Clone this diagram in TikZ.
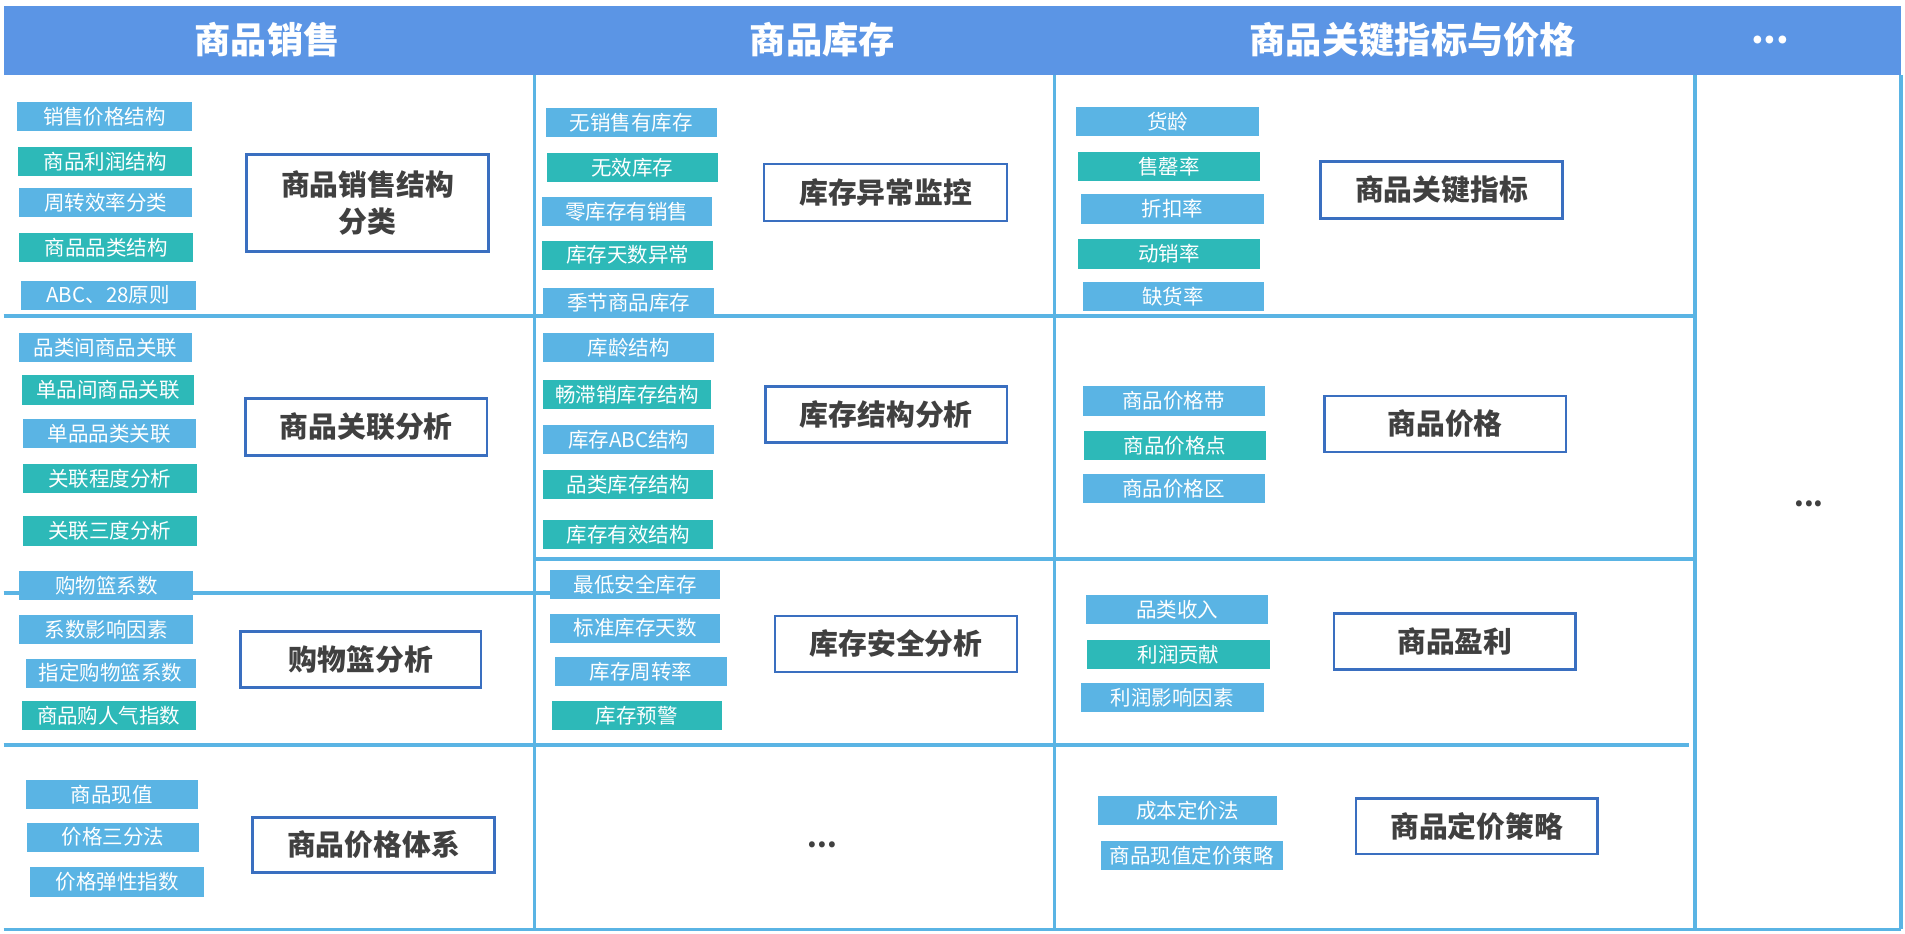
\documentclass[tikz,border=0pt]{standalone}
\usepackage{fontspec}
\newfontfamily\cjk{Noto Sans CJK SC}
\begin{document}
\begin{tikzpicture}[x=0.02cm,y=-0.02cm,
  grid/.style={draw=lb,line width=3.5pt},
  bigbox/.style={draw=bb,line width=1.2pt,fill=white,font=\cjk\fontsize{13.5}{15}\selectfont\bfseries,text=tx,align=center,inner sep=0pt},
  smallbox/.style={inner sep=0pt,text=white,font=\cjk\fontsize{9.6}{11}\selectfont},
  head/.style={text=white,font=\cjk\fontsize{17}{19}\selectfont\bfseries}]
\definecolor{lb}{HTML}{5AB4E4}
\definecolor{tl}{HTML}{2DB9B8}
\definecolor{hb}{HTML}{5B95E5}
\definecolor{bb}{HTML}{3A6FC0}
\definecolor{tx}{HTML}{404040}
\useasboundingbox (0,0) rectangle (1568,768);
\fill[white] (0,0) rectangle (1568,768);
\fill[hb] (3,5) rectangle (1565,62);
\node[head] (h1) at (220,33) {商品销售};
\node[head] (h2) at (677,33) {商品库存};
\node[head] (h3) at (1163,33) {商品关键指标与价格};
\node[head] (h4) at (1457,33) {...};
% grid
\draw[draw=lb,line width=1.8pt] (440,62)--(440,765) (868,62)--(868,765) (1395,62)--(1395,765) (1565,62)--(1565,765);
\draw[draw=lb,line width=1.8pt] (3,260)--(1395,260) (440,460)--(1395,460) (3,488)--(460,488) (3,613)--(1390,613) (3,765)--(1565,765);
\newcommand{\sbx}[6]{\node[smallbox,fill=#4,minimum width={(#2-#1)*0.02cm},minimum height=0.48cm] (#6) at ({(#1+#2)/2},#3) {#5};}
\newcommand{\bgx}[6]{\node[bigbox,minimum width={(#2-#1)*0.02cm},minimum height={(#4-#3)*0.02cm}] (#6) at ({(#1+#2)/2},{(#3+#4)/2}) {#5};}
% col1
\sbx{14}{158}{96}{lb}{销售价格结构}{a1}
\sbx{15}{158}{133}{tl}{商品利润结构}{a2}
\sbx{16}{158}{167}{lb}{周转效率分类}{a3}
\sbx{16}{159}{204}{tl}{商品品类结构}{a4}
\sbx{17}{161}{243}{lb}{ABC、28原则}{a5}
\bgx{203}{402}{127}{207}{商品销售结构\\[2pt]分类}{A1}
\sbx{16}{158}{286}{lb}{品类间商品关联}{b1}
\sbx{18}{160}{321}{tl}{单品间商品关联}{b2}
\sbx{19}{161}{357}{lb}{单品品类关联}{b3}
\sbx{19}{162}{394}{tl}{关联程度分析}{b4}
\sbx{19}{162}{437}{tl}{关联三度分析}{b5}
\bgx{202}{401}{328}{375}{商品关联分析}{B1}
\sbx{16}{159}{482}{lb}{购物篮系数}{c1}
\sbx{16}{159}{518}{lb}{系数影响因素}{c2}
\sbx{21}{161}{554}{lb}{指定购物篮系数}{c3}
\sbx{18}{161}{589}{tl}{商品购人气指数}{c4}
\bgx{198}{396}{520}{566}{购物篮分析}{C1}
\sbx{21}{163}{654}{lb}{商品现值}{d1}
\sbx{22}{164}{689}{lb}{价格三分法}{d2}
\sbx{25}{168}{726}{lb}{价格弹性指数}{d3}
\bgx{208}{407}{673}{718}{商品价格体系}{D1}
% col2
\sbx{449}{590}{101}{lb}{无销售有库存}{e1}
\sbx{450}{591}{138}{tl}{无效库存}{e2}
\sbx{446}{586}{174}{lb}{零库存有销售}{e3}
\sbx{446}{587}{210}{tl}{库存天数异常}{e4}
\sbx{447}{588}{249}{lb}{季节商品库存}{e5}
\bgx{629}{829}{135}{182}{库存异常监控}{E1}
\sbx{447}{588}{286}{lb}{库龄结构}{f1}
\sbx{447}{585}{325}{tl}{畅滞销库存结构}{f2}
\sbx{447}{588}{362}{lb}{库存ABC结构}{f3}
\sbx{447}{587}{399}{tl}{品类库存结构}{f4}
\sbx{447}{587}{440}{tl}{库存有效结构}{f5}
\bgx{630}{829}{318}{364}{库存结构分析}{F1}
\sbx{453}{593}{481}{lb}{最低安全库存}{g1}
\sbx{453}{593}{517}{lb}{标准库存天数}{g2}
\sbx{457}{598}{553}{lb}{库存周转率}{g3}
\sbx{454}{594}{589}{tl}{库存预警}{g4}
\bgx{638}{837}{507}{553}{库存安全分析}{G1}
\node[text=tx,font=\cjk\fontsize{13}{15}\selectfont\bfseries] (dots2) at (677,695) {...};
% col3
\sbx{886}{1036}{100}{lb}{货龄}{h1b}
\sbx{887}{1037}{137}{tl}{售罄率}{h2b}
\sbx{890}{1040}{172}{lb}{折扣率}{h3b}
\sbx{887}{1037}{209}{tl}{动销率}{h4b}
\sbx{891}{1040}{244}{lb}{缺货率}{h5b}
\bgx{1087}{1286}{133}{180}{商品关键指标}{H1}
\sbx{891}{1041}{330}{lb}{商品价格带}{i1}
\sbx{892}{1042}{367}{tl}{商品价格点}{i2}
\sbx{891}{1041}{402}{lb}{商品价格区}{i3}
\bgx{1090}{1289}{326}{372}{商品价格}{I1}
\sbx{894}{1044}{502}{lb}{品类收入}{j1}
\sbx{895}{1045}{539}{tl}{利润贡献}{j2}
\sbx{890}{1040}{574}{lb}{利润影响因素}{j3}
\bgx{1098}{1297}{505}{551}{商品盈利}{J1}
\sbx{904}{1051}{667}{lb}{成本定价法}{k1}
\sbx{906}{1056}{704}{lb}{商品现值定价策略}{k2}
\bgx{1116}{1315}{657}{703}{商品定价策略}{K1}
\node[text=tx,font=\cjk\fontsize{13}{15}\selectfont\bfseries] (dots4) at (1489,415) {...};
\end{tikzpicture}
\end{document}
